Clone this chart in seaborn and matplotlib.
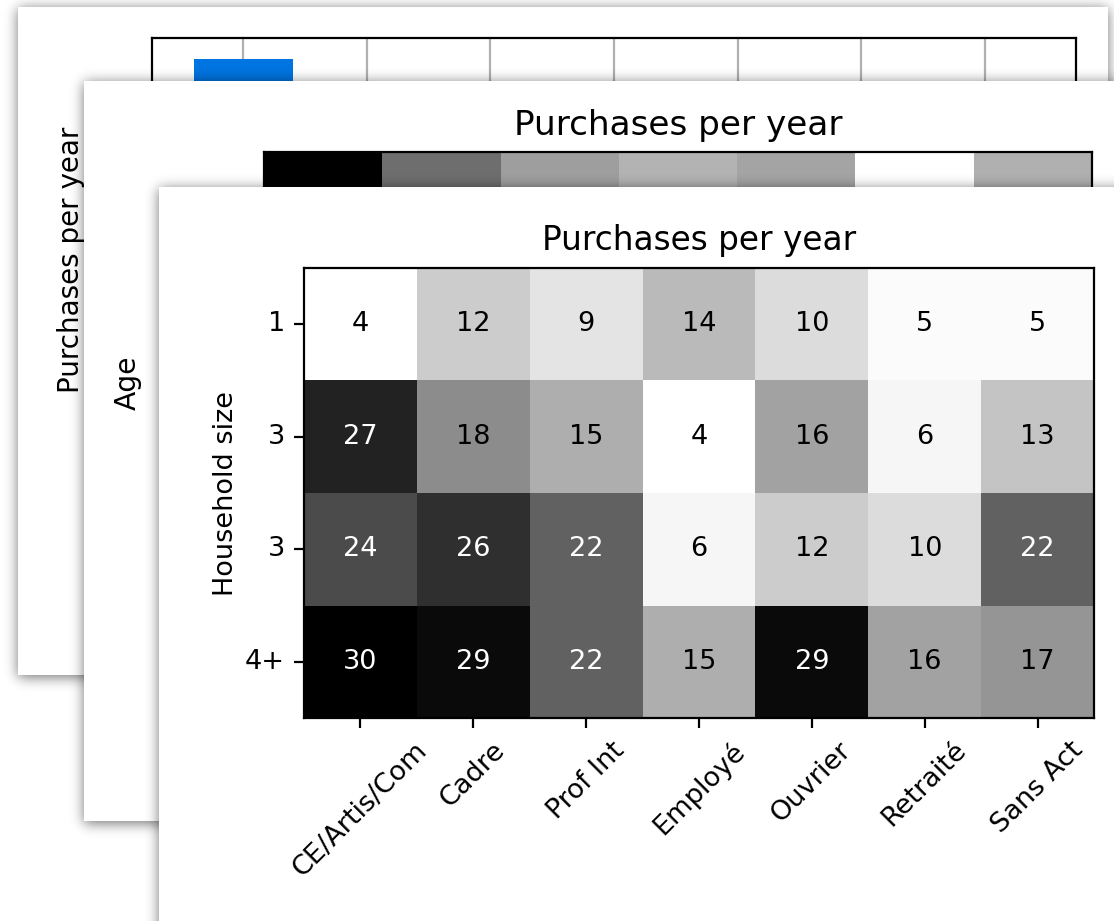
import math

import numpy as np
import pandas as pd
import matplotlib
matplotlib.use("Agg")
import matplotlib.pyplot as plt
from matplotlib.patches import Rectangle
import seaborn as sns

# ---------------------------------------------------------------- data
csp = ["CE/Artis/Com", "Cadre", "Prof Int", "Employé", "Ouvrier", "Retraité", "Sans Act"]
household_sizes = ["1", "3", "3", "4+"]

# purchases per year, household size x socio-professional category
purchases_household = [
    [4, 12, 9, 14, 10, 5, 5],
    [27, 18, 15, 4, 16, 6, 13],
    [24, 26, 22, 6, 12, 10, 22],
    [30, 29, 22, 15, 29, 16, 17],
]
# purchases per year by category, age panel
purchases_age = [30, 20.7, 16.3, 14.6, 15.8, 4, 14.8]
# purchases per year by category, bar panel
purchases_csp = [23, 18, 17, 11, 19, 8, 14]

# ---------------------------------------------------------------- style
W, H, DPI = 1114, 921, 100
LABEL = 19.5
TITLE = 23.6
LW = 1.6
TICK = 6.9

fig = plt.figure(figsize=(W / DPI, H / DPI), dpi=DPI)
fig.patch.set_facecolor("white")


def frac(x0, y0, x1, y1):
    """Pixel box (top-left origin) -> figure fraction rect."""
    return [x0 / W, 1 - y1 / H, (x1 - x0) / W, (y1 - y0) / H]


_erf = np.vectorize(math.erf)


def _profile(n, a, b, sigma):
    t = np.arange(n) + 0.5
    s = sigma * math.sqrt(2)
    return 0.5 * (_erf((t - a) / s) - _erf((t - b) / s))


def card(x0, y0, x1, y1, z, sigma=6.5, dy=2.5, strength=0.55):
    """White panel with a soft drop shadow, drawn on its own layer."""
    layer = fig.add_axes([0, 0, 1, 1], zorder=z)
    layer.set_axis_off()
    layer.patch.set_alpha(0)
    px = _profile(W, x0, x1, sigma)
    py = _profile(H, y0 + dy, y1 + dy, sigma)
    rgba = np.zeros((H, W, 4))
    rgba[..., 3] = strength * np.outer(py, px)
    layer.imshow(rgba, extent=(0, W, H, 0), interpolation="bilinear", aspect="auto")
    layer.add_patch(Rectangle((x0, y0), x1 - x0, y1 - y0,
                              facecolor="white", edgecolor="none"))
    layer.set_xlim(0, W)
    layer.set_ylim(H, 0)
    return layer


def frame(ax, size=LABEL):
    for sp in ax.spines.values():
        sp.set_visible(True)
        sp.set_linewidth(LW)
        sp.set_color("black")
    ax.tick_params(labelsize=size, length=TICK, width=LW, pad=TICK)


# ---------------------------------------------------------------- back panel: bars
card(18, 7, 1108, 675, z=0)
ax_bar = fig.add_axes(frac(152, 38, 1076, 481), zorder=1)
sns.barplot(x=csp, y=purchases_csp, color="#0074e0", saturation=1, width=0.8, ax=ax_bar)
n = len(csp)
pad = 0.05 * (n - 1 + 0.8)
ax_bar.set_xlim(-0.4 - pad, n - 1 + 0.4 + pad)
ax_bar.grid(axis="x", color="#b0b0b0", linewidth=LW)
ax_bar.set_axisbelow(True)
ax_bar.set_ylabel("Purchases per year", fontsize=20, labelpad=9)
frame(ax_bar, 20)

# ---------------------------------------------------------------- middle panel: age strip
card(84, 81, 1200, 821, z=2)
ax_age = fig.add_axes(frac(264, 152, 1092, 614), zorder=3)
sns.heatmap(pd.DataFrame([purchases_age], columns=csp), cmap="Greys", cbar=False,
            xticklabels=csp, yticklabels=False, ax=ax_age)
ax_age.set_title("Purchases per year", fontsize=24.7, pad=12)
ax_age.set_ylabel("Age", fontsize=20.3, labelpad=88)
ax_age.set_xlabel("")
frame(ax_age, 20.3)

# ---------------------------------------------------------------- front panel: household heatmap
card(159, 187, 1300, 1100, z=4)
ax_hh = fig.add_axes(frac(304, 268, 1094, 718), zorder=5)
df = pd.DataFrame(purchases_household, columns=csp)
sns.heatmap(df, cmap="Greys", cbar=False, annot=True, fmt="d",
            annot_kws={"fontsize": LABEL},
            xticklabels=csp, yticklabels=household_sizes, ax=ax_hh)
values = np.asarray(purchases_household).ravel()
for txt, v in zip(ax_hh.texts, values):
    txt.set_color("white" if v > 20 else "black")
ax_hh.set_title("Purchases per year", fontsize=TITLE, pad=13)
ax_hh.set_ylabel("Household size", fontsize=LABEL)
frame(ax_hh)
ax_hh.tick_params(axis="x", labelrotation=45)
ax_hh.tick_params(axis="y", labelrotation=0)

fig.savefig("out.png", dpi=DPI, facecolor="white")
